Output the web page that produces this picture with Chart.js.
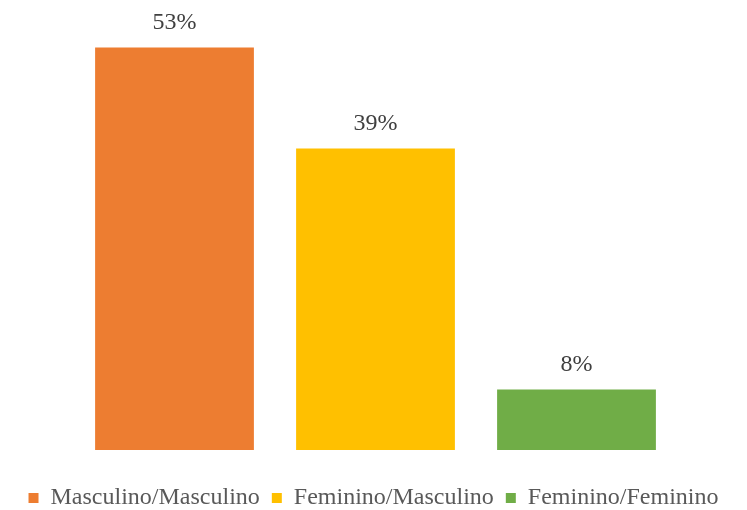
<!DOCTYPE html>
<html>
<head>
<meta charset="utf-8">
<script src="https://cdn.jsdelivr.net/npm/chart.js@4/dist/chart.umd.min.js"></script>
<style>
  html, body { margin: 0; padding: 0; background: #fff; }
  #wrap { width: 747px; height: 510px; }
</style>
</head>
<body>
<div id="wrap"><canvas id="out"></canvas></div>
<script>
const categories = ["Masculino/Masculino", "Feminino/Masculino", "Feminino/Feminino"];
const values = [52.6, 39.4, 7.9];
const colors = ["#ED7D31", "#FFC000", "#70AD47"];

const FONT = "'Liberation Serif', 'Times New Roman', serif";

// rounded percent above each bar
const valueLabels = {
  id: "valueLabels",
  afterDatasetsDraw(chart) {
    const ctx = chart.ctx;
    const meta = chart.getDatasetMeta(0);
    ctx.save();
    ctx.font = "24px " + FONT;
    ctx.fillStyle = "#404040";
    ctx.textAlign = "center";
    ctx.textBaseline = "middle";
    meta.data.forEach((bar, i) => {
      ctx.fillText(Math.round(values[i]) + "%", bar.x, bar.y - 25);
    });
    ctx.restore();
  }
};

const canvasCtx = document.getElementById("out").getContext("2d");
const chart = new Chart(canvasCtx, {
  type: "bar",
  data: {
    labels: categories,
    datasets: [{
      data: values,
      backgroundColor: colors,
      barPercentage: 0.79,
      categoryPercentage: 1
    }]
  },
  options: {
    responsive: true,
    maintainAspectRatio: false,
    animation: false,
    layout: { padding: { top: 10, left: 0, right: 0, bottom: -10 } },
    scales: {
      x: {
        display: true,
        grid: { display: false },
        border: { display: false },
        ticks: { display: false },
        afterFit: s => { s.height = 24; }
      },
      y: {
        min: 0,
        max: 57.5,
        grid: { display: false },
        border: { display: false },
        ticks: { display: false },
        afterFit: s => { s.width = 74; }
      },
      yRight: {
        position: "right",
        display: true,
        grid: { display: false },
        border: { display: false },
        ticks: { display: false },
        afterFit: s => { s.width = 70; }
      }
    },
    plugins: {
      tooltip: { enabled: false },
      legend: {
        position: "bottom",
        labels: {
          boxWidth: 10,
          boxHeight: 10,
          padding: 12,
          color: "#595959",
          font: { family: FONT, size: 24 },
          generateLabels: () => categories.map((c, i) => ({
            text: c,
            fillStyle: colors[i],
            strokeStyle: colors[i],
            fontColor: "#595959",
            lineWidth: 0,
            index: i
          }))
        }
      }
    }
  },
  plugins: [valueLabels]
});
</script>
</body>
</html>
